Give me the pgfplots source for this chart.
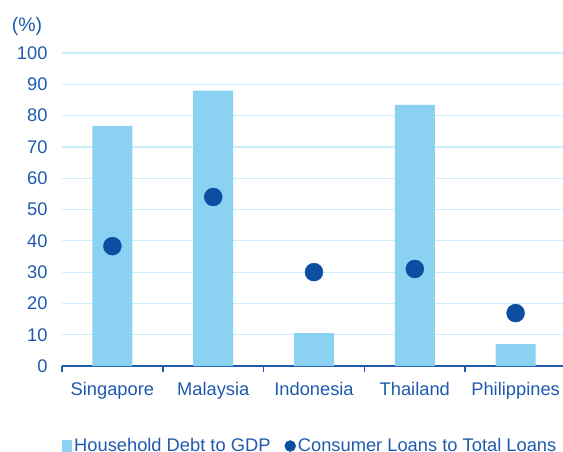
\documentclass[border=0pt]{standalone}
\usepackage{fontspec}
\setmainfont{Liberation Sans}
\usepackage{pgfplots}
\pgfplotsset{compat=1.18}
\definecolor{barblue}{HTML}{8AD1F2}
\definecolor{dotblue}{HTML}{0B4EA2}
\definecolor{txtblue}{HTML}{1F5AAE}
\definecolor{gridblue}{HTML}{CDEDFA}
\newcommand{\chartfont}{\fontsize{18.3}{20}\selectfont}

\begin{document}
\begin{tikzpicture}
\begin{axis}[
  name=main,
  at={(62pt,85pt)}, anchor=south west,
  scale only axis, width=504pt, height=313pt,
  xmin=-0.5, xmax=4.5, ymin=0, ymax=100,
  ytick={0,10,...,100},
  xtick={0,1,2,3,4},
  xticklabels={Singapore,Malaysia,Indonesia,Thailand,Philippines},
  extra x ticks={-0.5,0.5,1.5,2.5,3.5,4.5},
  extra x tick labels={},
  extra x tick style={major tick length=6pt, tick align=outside, grid=none,
    tick style={txtblue, line width=1.5pt}},
  major tick length=0pt,
  axis x line=bottom, axis y line=left,
  x axis line style={-, txtblue, line width=2pt},
  y axis line style={draw=none},
  ymajorgrids, grid style={gridblue, line width=1.2pt},
  tick label style={font=\chartfont, text=txtblue},
  /pgf/number format/assume math mode=true,
  yticklabel style={xshift=-11pt},
  xticklabel style={yshift=-13pt},
  legend style={at={(0,-0.225)}, anchor=north west, draw=none, fill=none,
    font=\chartfont, text=txtblue, legend columns=2,
    /tikz/every even column/.append style={column sep=12pt},
    inner sep=0pt},
  legend cell align=left,
]
\addplot[ybar, bar width=40pt, fill=barblue, draw=none,
  legend image code/.code={\fill[barblue] (0pt,-6pt) rectangle (10pt,6pt);}]
  coordinates {(0,76.7) (1,88.0) (2,10.5) (3,83.4) (4,7.0)};
\addlegendentry{Household Debt to GDP}
\addplot[only marks, mark=*, mark size=9pt, color=dotblue,
  legend image code/.code={\fill[dotblue] (5pt,0pt) circle (5.5pt);}]
  coordinates {(0,38.3) (1,54.0) (2,30.0) (3,31.0) (4,16.9)};
\addlegendentry{Consumer Loans to Total Loans}
\end{axis}
\node[text=txtblue, font=\fontsize{19.5}{21}\selectfont] at (main.north west) [xshift=-35pt, yshift=27pt] {(\%)};
\pgfresetboundingbox
\path[use as bounding box] (0,0) rectangle (563pt,451pt);
\end{tikzpicture}
\end{document}
